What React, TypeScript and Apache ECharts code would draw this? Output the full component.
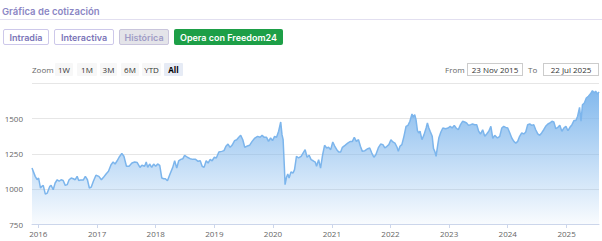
import React, { useEffect, useRef } from "react";
import * as echarts from "echarts";

const dates: string[] = [
  "2015-11-23","2015-12-13","2015-12-25","2016-01-03","2016-01-15","2016-01-23","2016-02-01","2016-02-14","2016-02-26","2016-03-13",
  "2016-03-21","2016-04-03","2016-04-15","2016-04-28","2016-05-10","2016-05-22","2016-06-04","2016-06-17","2016-06-29","2016-07-11",
  "2016-07-24","2016-08-06","2016-08-18","2016-08-30","2016-09-09","2016-09-21","2016-10-07","2016-10-20","2016-11-02","2016-11-14",
  "2016-11-26","2016-12-09","2016-12-25","2017-01-12","2017-01-28","2017-02-10","2017-02-26","2017-03-13","2017-03-29","2017-04-11",
  "2017-04-23","2017-05-06","2017-05-18","2017-06-04","2017-06-17","2017-07-03","2017-07-19","2017-08-06","2017-08-23","2017-09-08",
  "2017-09-25","2017-10-07","2017-10-24","2017-11-03","2017-11-12","2017-11-24","2017-12-07","2017-12-19","2018-01-01","2018-01-13",
  "2018-01-26","2018-02-08","2018-02-20","2018-03-02","2018-03-15","2018-03-31","2018-04-17","2018-04-29","2018-05-12","2018-05-24",
  "2018-06-06","2018-06-19","2018-06-30","2018-07-17","2018-08-03","2018-08-20","2018-09-06","2018-09-22","2018-10-05","2018-10-17",
  "2018-10-29","2018-11-11","2018-11-23","2018-12-06","2018-12-18","2019-01-01","2019-01-13","2019-01-29","2019-02-16","2019-03-02",
  "2019-03-14","2019-03-27","2019-04-09","2019-04-21","2019-05-07","2019-05-20","2019-06-02","2019-06-14","2019-06-27","2019-07-09",
  "2019-07-21","2019-08-08","2019-08-24","2019-09-10","2019-09-27","2019-10-13","2019-10-25","2019-11-08","2019-11-22","2019-12-04",
  "2019-12-17","2019-12-29","2020-01-11","2020-01-23","2020-02-05","2020-02-18","2020-02-26","2020-03-04","2020-03-12","2020-03-16",
  "2020-03-25","2020-04-02","2020-04-10","2020-04-22","2020-05-05","2020-05-14","2020-05-26","2020-06-08","2020-06-24","2020-07-06",
  "2020-07-19","2020-07-31","2020-08-13","2020-08-25","2020-09-07","2020-09-20","2020-09-28","2020-10-11","2020-10-23","2020-11-05",
  "2020-11-17","2020-11-30","2020-12-12","2020-12-25","2021-01-07","2021-01-19","2021-02-01","2021-02-13","2021-02-25","2021-03-08",
  "2021-03-24","2021-04-10","2021-04-27","2021-05-09","2021-05-21","2021-06-03","2021-06-16","2021-06-28","2021-07-10","2021-07-26",
  "2021-08-13","2021-08-25","2021-09-07","2021-09-20","2021-10-02","2021-10-19","2021-11-01","2021-11-15","2021-11-27","2021-12-10",
  "2021-12-22","2022-01-04","2022-01-16","2022-01-29","2022-02-11","2022-02-19","2022-03-01","2022-03-13","2022-03-26","2022-04-08",
  "2022-04-20","2022-05-02","2022-05-15","2022-05-23","2022-06-01","2022-06-09","2022-06-18","2022-06-26","2022-07-04","2022-07-16",
  "2022-07-29","2022-08-11","2022-08-19","2022-08-28","2022-09-05","2022-09-18","2022-09-26","2022-10-04","2022-10-12","2022-10-21",
  "2022-10-29","2022-11-11","2022-11-23","2022-12-10","2022-12-26","2023-01-08","2023-01-20","2023-02-02","2023-02-14","2023-02-27",
  "2023-03-13","2023-03-26","2023-04-08","2023-04-20","2023-05-02","2023-05-15","2023-05-27","2023-06-09","2023-06-22","2023-07-04",
  "2023-07-16","2023-07-29","2023-08-11","2023-08-23","2023-09-05","2023-09-18","2023-09-30","2023-10-12","2023-10-29","2023-11-12",
  "2023-11-25","2023-12-07","2023-12-19","2024-01-01","2024-01-14","2024-01-26","2024-02-08","2024-02-20","2024-03-03","2024-03-15",
  "2024-03-28","2024-04-10","2024-04-22","2024-05-04","2024-05-17","2024-05-29","2024-06-11","2024-06-23","2024-07-06","2024-07-18",
  "2024-07-30","2024-08-12","2024-08-24","2024-09-07","2024-09-19","2024-10-02","2024-10-14","2024-10-26","2024-11-08","2024-11-20",
  "2024-12-03","2024-12-15","2024-12-28","2025-01-10","2025-01-22","2025-02-04","2025-02-16","2025-02-28","2025-03-11","2025-03-23",
  "2025-04-01","2025-04-10","2025-04-22","2025-05-04","2025-05-17","2025-05-29","2025-06-11","2025-06-23","2025-07-01","2025-07-13",
  "2025-07-22"
];

const prices: number[] = [
  1148,1089,1065,1077,1006,1018,1025,963,970,1018,
  1025,994,1042,1065,1054,1065,1060,1025,1030,1065,
  1077,1072,1065,1089,1060,1063,1063,1089,1065,1006,
  1013,1054,1097,1089,1065,1082,1106,1125,1172,1191,
  1177,1200,1225,1253,1232,1161,1161,1184,1191,1187,
  1153,1168,1161,1191,1153,1177,1153,1177,1161,1177,
  1168,1077,1072,1072,1058,1106,1153,1200,1148,1200,
  1210,1215,1239,1225,1215,1210,1210,1196,1200,1161,
  1153,1200,1184,1210,1200,1225,1220,1262,1267,1272,
  1303,1319,1296,1310,1343,1350,1367,1381,1350,1296,
  1303,1310,1338,1362,1374,1367,1381,1367,1367,1338,
  1362,1343,1374,1367,1410,1476,1386,1350,1148,1030,
  1082,1106,1077,1120,1113,1137,1232,1220,1232,1255,
  1279,1225,1239,1208,1200,1191,1161,1208,1148,1243,
  1310,1291,1296,1279,1334,1305,1279,1262,1262,1296,
  1310,1326,1338,1338,1367,1338,1350,1303,1267,1272,
  1286,1291,1255,1225,1243,1296,1319,1315,1291,1303,
  1315,1350,1334,1326,1296,1267,1303,1315,1374,1445,
  1452,1481,1533,1509,1528,1493,1414,1398,1410,1350,
  1386,1433,1469,1433,1410,1374,1286,1267,1232,1303,
  1362,1405,1433,1428,1433,1445,1433,1452,1433,1421,
  1457,1481,1476,1469,1452,1457,1462,1457,1457,1410,
  1391,1421,1374,1391,1410,1445,1360,1381,1362,1374,
  1433,1445,1438,1433,1398,1362,1338,1326,1338,1374,
  1398,1391,1405,1457,1462,1452,1457,1421,1391,1381,
  1398,1421,1445,1462,1469,1481,1476,1428,1438,1452,
  1410,1433,1445,1414,1438,1457,1486,1486,1517,1580,
  1481,1599,1611,1647,1659,1675,1699,1683,1695,1675,
  1690
];

const yTicks: number[] = [750, 1000, 1250, 1500, 1750];
const tabs: string[] = ["Intradía", "Interactiva", "Histórica"];
const ctaLabel = "Opera con Freedom24";
const zoomButtons: string[] = ["1W", "1M", "3M", "6M", "YTD", "All"];
const fromDate = "23 Nov 2015";
const toDate = "22 Jul 2025";

const headFont = "Inter, 'Noto Sans', sans-serif";
const uiFont = "'Open Sans', 'DejaVu Sans', sans-serif";
const DAY = 24 * 3600 * 1000;

export default function App() {
  const ref = useRef<HTMLDivElement>(null);

  useEffect(() => {
    if (!ref.current) return;
    const chart = echarts.init(ref.current, null, { renderer: "svg" });
    const data = dates.map((d, i) => [d, prices[i]]);
    chart.setOption({
      animation: false,
      backgroundColor: "transparent",
      grid: { left: 32, right: 3, top: 83.5, bottom: 17 },
      xAxis: {
        type: "time",
        min: dates[0],
        max: dates[dates.length - 1],
        minInterval: 365 * DAY,
        maxInterval: 366 * DAY,
        axisLine: { lineStyle: { color: "#ccd6eb", width: 1 } },
        axisTick: { show: true, length: 4, lineStyle: { color: "#ccd6eb" } },
        splitLine: { show: false },
        axisLabel: {
          color: "#666666",
          fontSize: 8,
          fontFamily: uiFont,
          margin: 5,
          showMinLabel: false,
          showMaxLabel: false,
          hideOverlap: false,
          formatter: (v: number) => {
            const d = new Date(v);
            return d.getMonth() === 0 && d.getDate() === 1 ? String(d.getFullYear()) : "";
          },
        },
      },
      yAxis: {
        type: "value",
        min: yTicks[0],
        max: yTicks[yTicks.length - 1],
        interval: 250,
        axisLine: { show: false },
        axisTick: { show: false },
        splitLine: { lineStyle: { color: "#e6e6e6", width: 1 } },
        axisLabel: {
          color: "#666666",
          fontSize: 8,
          fontFamily: uiFont,
          margin: 9,
          showMaxLabel: false,
          verticalAlign: "middle",
          padding: [0, 0, 7, 0],
          formatter: (v: number) => String(v),
        },
      },
      series: [
        {
          type: "line",
          data,
          showSymbol: false,
          symbol: "none",
          lineStyle: { color: "#7cb5ec", width: 1.5 },
          itemStyle: { color: "#7cb5ec" },
          areaStyle: {
            origin: "start",
            opacity: 1,
            color: new echarts.graphic.LinearGradient(0, 0, 0, 1, [
              { offset: 0, color: "rgba(124,181,236,0.95)" },
              { offset: 1, color: "rgba(124,181,236,0.05)" },
            ]),
          },
        },
      ],
    });
    return () => chart.dispose();
  }, []);

  const tabPos = [
    { left: 3, width: 46 },
    { left: 54, width: 60 },
    { left: 119, width: 50 },
  ];
  const zoomPos = [
    { left: 55, width: 18 },
    { left: 77, width: 20 },
    { left: 100, width: 17 },
    { left: 121, width: 18 },
    { left: 142, width: 19 },
    { left: 164, width: 19 },
  ];

  return (
    <div style={{ position: "fixed", left: 0, top: 0, width: 602, height: 241, background: "#fff", overflow: "hidden" }}>
      <div ref={ref} style={{ position: "absolute", left: 0, top: 0, width: 602, height: 241 }} />
      <div style={{ position: "absolute", left: 2, top: 6, fontFamily: headFont, fontSize: 9.5, fontWeight: 600, color: "#8b86c4", lineHeight: "12px", whiteSpace: "nowrap" }}>
        Gráfica de cotización
      </div>
      <div style={{ position: "absolute", left: 0, top: 19, width: 602, height: 1, background: "#e2dff0" }} />
      {tabs.map((t, i) => {
        const active = i === 2;
        return (
          <div key={t} style={{
            position: "absolute", top: 29, left: tabPos[i].left, width: tabPos[i].width, height: 16, boxSizing: "border-box",
            border: `1px solid ${active ? "#c9c5dc" : "#cdc8ea"}`, borderRadius: 2, background: active ? "#e4e4e9" : "#fff",
            color: active ? "#a09cc6" : "#7b75b8", fontFamily: headFont, fontSize: 9, fontWeight: 600,
            display: "flex", alignItems: "center", justifyContent: "center", whiteSpace: "nowrap",
          }}>{t}</div>
        );
      })}
      <div style={{
        position: "absolute", top: 29, left: 174, width: 109, height: 16, boxSizing: "border-box",
        borderRadius: 2, background: "#1d9f47", color: "#fff", fontFamily: headFont, fontSize: 9, fontWeight: 600,
        display: "flex", alignItems: "center", justifyContent: "center", whiteSpace: "nowrap",
      }}>{ctaLabel}</div>

      <div style={{ position: "absolute", left: 32, top: 63, height: 13, lineHeight: "13px", fontFamily: uiFont, fontSize: 8, color: "#666" }}>Zoom</div>
      {zoomButtons.map((z, i) => {
        const active = z === "All";
        return (
          <div key={z} style={{
            position: "absolute", top: 63, left: zoomPos[i].left, width: zoomPos[i].width, height: 13, lineHeight: "13px",
            textAlign: "center", background: active ? "#e6ebf5" : "#f7f7f7", color: active ? "#000" : "#333",
            fontWeight: active ? 700 : 400, fontFamily: uiFont, fontSize: 8, borderRadius: 1,
          }}>{z}</div>
        );
      })}
      <div style={{ position: "absolute", left: 445, top: 63, height: 13, lineHeight: "13px", fontFamily: uiFont, fontSize: 8, color: "#666" }}>From</div>
      <div style={{
        position: "absolute", left: 467, top: 63, width: 56, height: 13, boxSizing: "border-box", border: "1px solid #cccccc",
        lineHeight: "11px", textAlign: "center", fontFamily: uiFont, fontSize: 8, color: "#333",
      }}>{fromDate}</div>
      <div style={{ position: "absolute", left: 528, top: 63, height: 13, lineHeight: "13px", fontFamily: uiFont, fontSize: 8, color: "#666" }}>To</div>
      <div style={{
        position: "absolute", left: 543, top: 63, width: 56, height: 13, boxSizing: "border-box", border: "1px solid #cccccc",
        lineHeight: "11px", textAlign: "center", fontFamily: uiFont, fontSize: 8, color: "#333",
      }}>{toDate}</div>
    </div>
  );
}
